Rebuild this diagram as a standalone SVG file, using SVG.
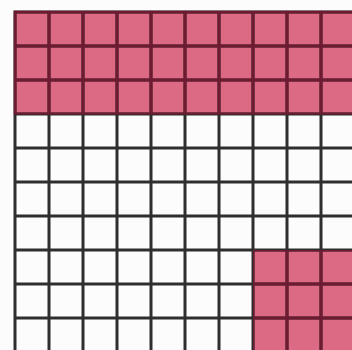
<svg xmlns="http://www.w3.org/2000/svg" width="352" height="350" viewBox="0 0 352 350">
  <defs>
    <style>
      .pink { fill: #dd6a84; }
      .grid { fill: none; stroke-width: 3; stroke-linecap: butt; }
    </style>
    <path id="gridlines" d="M15 12V350 M49 12V350 M83 12V350 M117 12V350 M151 12V350 M185 12V350 M219 12V350 M253 12V350 M287 12V350 M321 12V350 M13.5 12H352 M13.5 46H352 M13.5 80H352 M13.5 114H352 M13.5 148H352 M13.5 182H352 M13.5 216H352 M13.5 250H352 M13.5 284H352 M13.5 318H352"/>
    <clipPath id="pinkclip">
      <rect x="13.5" y="10.5" width="340" height="104"/>
      <rect x="253" y="250" width="100" height="100"/>
    </clipPath>
  </defs>
  <rect width="352" height="350" fill="#fcfcfc"/>
  <g id="shaded-top">
    <rect class="pink" x="15" y="12" width="337" height="102"/>
  </g>
  <g id="shaded-corner">
    <rect class="pink" x="253" y="250" width="99" height="100"/>
  </g>
  <g id="grid">
    <use href="#gridlines" class="grid" stroke="#2e2e2e"/>
    <use href="#gridlines" class="grid" stroke="#6e1a30" clip-path="url(#pinkclip)"/>
  </g>
</svg>
